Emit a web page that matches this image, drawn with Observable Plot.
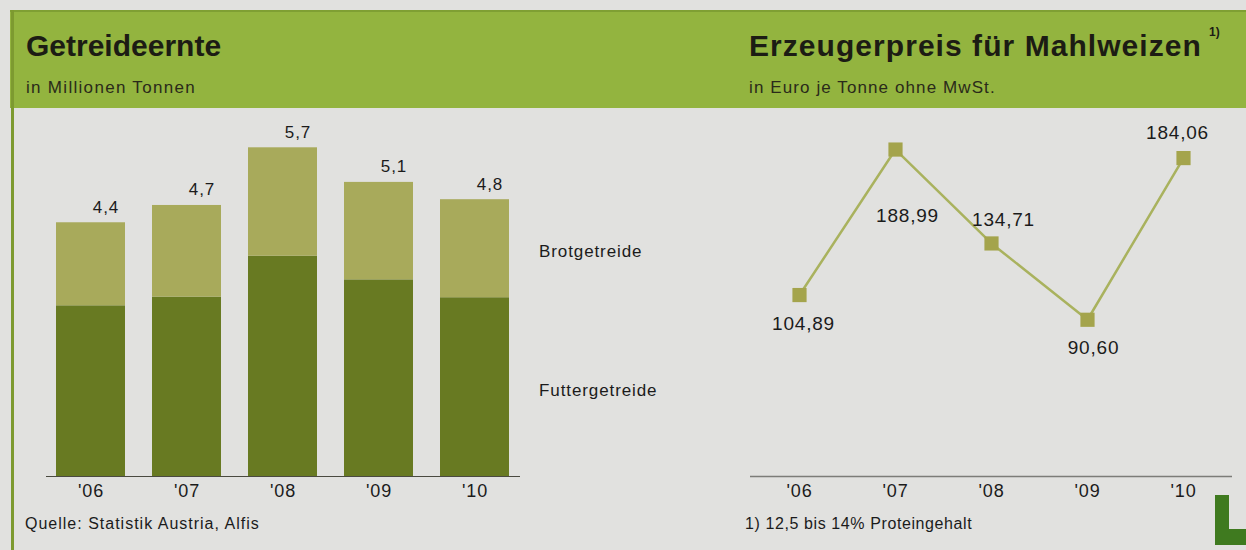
<!DOCTYPE html>
<html>
<head>
<meta charset="utf-8">
<script src="https://cdn.jsdelivr.net/npm/d3@7"></script>
<script src="https://cdn.jsdelivr.net/npm/@observablehq/plot@0.6"></script>
<style>
  html, body { margin: 0; padding: 0; }
  body { width: 1246px; height: 550px; background: #e1e1df; position: relative; overflow: hidden;
         font-family: "Liberation Sans", Arial, sans-serif; color: #1b1b1b; }
  .band { position: absolute; left: 10px; top: 10px; width: 1236px; height: 98px; background: #93b43f;
          border-top: 2px solid #7f9f33; box-sizing: border-box; }
  .vline { position: absolute; left: 11px; top: 10px; width: 3px; height: 540px; background: #7d9a30; }
  .title { position: absolute; font-weight: bold; font-size: 30px; color: #1c1c14; white-space: nowrap; }
  .sub { position: absolute; font-size: 17px; letter-spacing: 1.3px; color: #2a2a1a; white-space: nowrap; }
  .sup { position: absolute; font-size: 12px; font-weight: bold; color: #1c1c14; }
  .foot { position: absolute; font-size: 16px; letter-spacing: 1px; color: #1b1b1b; white-space: nowrap; }
  .plot { position: absolute; top: 110px; }
  .logo1 { position: absolute; left: 1215px; top: 495px; width: 14px; height: 50px; background: #3f7a1f; }
  .logo2 { position: absolute; left: 1215px; top: 529px; width: 31px; height: 16px; background: #3f7a1f; }
</style>
</head>
<body>
<div class="band"></div>
<div class="vline"></div>
<div class="title" style="left:26px; top:29px;">Getreideernte</div>
<div class="sub" style="left:26px; top:78px;">in Millionen Tonnen</div>
<div class="title" style="left:749px; top:29px; letter-spacing:1.05px;">Erzeugerpreis für Mahlweizen</div>
<div class="sup" style="left:1209px; top:25px;">1)</div>
<div class="sub" style="left:749px; top:78px; letter-spacing:1.1px;">in Euro je Tonne ohne MwSt.</div>
<div id="left" class="plot" style="left:20px;"></div>
<div id="right" class="plot" style="left:700px;"></div>
<div class="foot" style="left:25px; top:515px;">Quelle: Statistik Austria, Alfis</div>
<div class="foot" style="left:745px; top:515px; letter-spacing:0.6px;">1) 12,5 bis 14% Proteingehalt</div>
<div class="logo1"></div>
<div class="logo2"></div>
<script>
// ---- data ----
const years = ["'06", "'07", "'08", "'09", "'10"];
const seriesNames = ["Futtergetreide", "Brotgetreide"];
const futtergetreide = [2.96, 3.11, 3.82, 3.41, 3.10];
const brotgetreide = [1.44, 1.59, 1.88, 1.69, 1.70];
const totals = [4.4, 4.7, 5.7, 5.1, 4.8];
const prices = [104.89, 188.99, 134.71, 90.60, 184.06];

const deFmt1 = v => v.toLocaleString("de-DE", {minimumFractionDigits: 1, maximumFractionDigits: 1});
const deFmt2 = v => v.toLocaleString("de-DE", {minimumFractionDigits: 2, maximumFractionDigits: 2});

const long = [];
years.forEach((y, i) => {
  long.push({year: y, type: seriesNames[0], value: futtergetreide[i]});
  long.push({year: y, type: seriesNames[1], value: brotgetreide[i]});
});
const totalData = years.map((y, i) => ({year: y, total: totals[i], label: deFmt1(totals[i])}));
const priceData = years.map((y, i) => ({year: y, price: prices[i], label: deFmt2(prices[i])}));

const common = {
  height: 400,
  marginTop: 20,
  marginBottom: 34,
  style: {background: "transparent", fontFamily: "Liberation Sans, Arial, sans-serif", fontSize: "17px", color: "#1b1b1b", overflow: "visible"}
};

function spacing(svg, px) {
  svg.querySelectorAll("text").forEach(t => t.style.letterSpacing = px);
}

// ---- left: stacked bars ----
const left = Plot.plot({
  ...common,
  width: 680,
  marginLeft: 26,
  marginRight: 180,
  x: {domain: years, paddingInner: 0.28, paddingOuter: 0.1, label: null},
  y: {domain: [0, 6], axis: null},
  color: {domain: seriesNames, range: ["#687a22", "#a8aa5b"]},
  marks: [
    Plot.barY(long, {x: "year", y: "value", fill: "type"}),
    Plot.ruleY([0], {stroke: "#4a4a40", strokeWidth: 1.2}),
    Plot.axisX({tickSize: 0, tickPadding: 8, fontSize: 18, label: null}),
    Plot.text(totalData, {x: "year", y: "total", text: "label", dx: 15, dy: -10, lineAnchor: "bottom", fontSize: 17}),
    Plot.text(long.filter(d => d.year === years[years.length - 1]),
      Plot.stackY({x: "year", y: "value", text: "type", textAnchor: "start", dx: 64, dy: 3, fontSize: 17}))
  ]
});
spacing(left, "0.9px");
document.getElementById("left").appendChild(left);

// ---- right: price line ----
const right = Plot.plot({
  ...common,
  width: 546,
  marginLeft: 50,
  marginRight: 14,
  x: {type: "point", domain: years, padding: 0.485, label: null},
  y: {domain: [0, 200], axis: null},
  marks: [
    Plot.ruleY([0], {stroke: "#7c7c78", strokeWidth: 1.5}),
    Plot.axisX({tickSize: 0, tickPadding: 8, fontSize: 18, label: null}),
    Plot.line(priceData, {x: "year", y: "price", stroke: "#a9b25e", strokeWidth: 2.5}),
    Plot.dot(priceData, {x: "year", y: "price", symbol: "square", r: 8, fill: "#a4a44c", stroke: "none"}),
    Plot.text(priceData.filter(d => d.year === "'06"), {x: "year", y: "price", text: "label", dx: 4, dy: 29, fontSize: 19}),
    Plot.text(priceData.filter(d => d.year === "'07"), {x: "year", y: "price", text: "label", dx: 12, dy: 66, fontSize: 19}),
    Plot.text(priceData.filter(d => d.year === "'08"), {x: "year", y: "price", text: "label", dx: 12, dy: -24, fontSize: 19}),
    Plot.text(priceData.filter(d => d.year === "'09"), {x: "year", y: "price", text: "label", dx: 6, dy: 28, fontSize: 19}),
    Plot.text(priceData.filter(d => d.year === "'10"), {x: "year", y: "price", text: "label", dx: -6, dy: -25, fontSize: 19})
  ]
});
spacing(right, "0.8px");
document.getElementById("right").appendChild(right);
</script>
</body>
</html>
